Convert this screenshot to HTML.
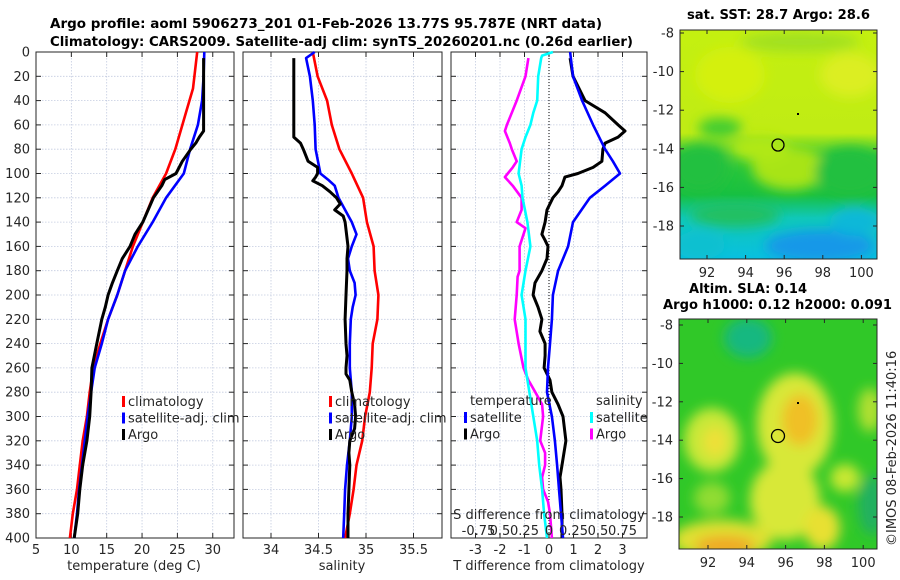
<!DOCTYPE html>
<html><head><meta charset="utf-8">
<style>
html,body{margin:0;padding:0;background:#fff;}
svg{display:block;font-family:"DejaVu Sans","Liberation Sans",sans-serif;}
.tk{font-size:13px;fill:#262626;}
.ttl{font-size:13px;font-weight:bold;fill:#000;}
</style></head>
<body>
<svg id="fig" width="900" height="580" viewBox="0 0 900 580" xmlns="http://www.w3.org/2000/svg">
<defs>
<filter id="blur6" x="-20%" y="-20%" width="140%" height="140%"><feGaussianBlur stdDeviation="6"/></filter>
<clipPath id="clipTop"><rect x="680" y="30" width="197" height="229"/></clipPath>
<clipPath id="clipBot"><rect x="679" y="319" width="198" height="230"/></clipPath>
<linearGradient id="sstGrad" x1="0" y1="0" x2="0" y2="1">
<stop offset="0" stop-color="#c4f010"/><stop offset="0.45" stop-color="#c0ec14"/>
<stop offset="0.55" stop-color="#30c838"/><stop offset="0.72" stop-color="#18c040"/>
<stop offset="0.82" stop-color="#10c8b8"/><stop offset="1" stop-color="#08c0e0"/>
</linearGradient>
</defs>

<text class="ttl" x="50" y="28" textLength="552" lengthAdjust="spacingAndGlyphs">Argo profile: aoml 5906273_201 01-Feb-2026 13.77S 95.787E (NRT data)</text>
<text class="ttl" x="50" y="46" textLength="583" lengthAdjust="spacingAndGlyphs">Climatology: CARS2009. Satellite-adj clim: synTS_20260201.nc (0.26d earlier)</text>

<g id="p1"></g>
<g id="p2"></g>
<g id="p3"></g>

<!-- SST map -->
<g>
<text class="ttl" x="687" y="19" textLength="183" lengthAdjust="spacingAndGlyphs">sat. SST: 28.7 Argo: 28.6</text>
<g clip-path="url(#clipTop)">
<rect x="680" y="30" width="197" height="229" fill="url(#sstGrad)"/>
<g filter="url(#blur6)">
<ellipse cx="790" cy="168" rx="38" ry="22" fill="#a8e418"/>
<ellipse cx="760" cy="148" rx="30" ry="14" fill="#b0e818"/>
<ellipse cx="700" cy="168" rx="28" ry="24" fill="#20c040"/>
<ellipse cx="850" cy="172" rx="35" ry="25" fill="#20c040"/>
<ellipse cx="720" cy="128" rx="22" ry="10" fill="#40cc30"/>
<ellipse cx="735" cy="215" rx="45" ry="12" fill="#20c060"/>
<ellipse cx="820" cy="246" rx="55" ry="16" fill="#1898e8"/>
<ellipse cx="855" cy="222" rx="25" ry="14" fill="#10b8d8"/>
<ellipse cx="700" cy="245" rx="25" ry="14" fill="#10c0d0"/>
<ellipse cx="730" cy="75" rx="35" ry="28" fill="#d4f010"/>
<ellipse cx="850" cy="75" rx="30" ry="22" fill="#dcee20"/>
<ellipse cx="800" cy="42" rx="60" ry="10" fill="#a0e020"/>
</g>
</g>
<rect x="680" y="30" width="197" height="229" fill="none" stroke="#262626" stroke-width="1"/>
<circle cx="778" cy="145" r="6" fill="none" stroke="#000" stroke-width="1.3"/>
<rect x="797" y="113" width="2" height="2" fill="#000"/>
<g id="mapTopAxes"></g>
</g>

<!-- SLA map -->
<g>
<text class="ttl" x="689" y="293" textLength="118" lengthAdjust="spacingAndGlyphs">Altim. SLA: 0.14</text>
<text class="ttl" x="663" y="309" textLength="229" lengthAdjust="spacingAndGlyphs">Argo h1000: 0.12 h2000: 0.091</text>
<g clip-path="url(#clipBot)">
<rect x="679" y="319" width="198" height="230" fill="#30c828"/>
<g filter="url(#blur6)">
<ellipse cx="748" cy="338" rx="24" ry="20" fill="#18b880"/>
<ellipse cx="795" cy="425" rx="38" ry="52" fill="#d8e838"/>
<ellipse cx="800" cy="420" rx="18" ry="26" fill="#f0c028"/>
<ellipse cx="785" cy="500" rx="35" ry="40" fill="#d8e838"/>
<ellipse cx="712" cy="440" rx="28" ry="32" fill="#c8e838"/>
<ellipse cx="715" cy="442" rx="12" ry="15" fill="#eee038"/>
<ellipse cx="722" cy="540" rx="50" ry="20" fill="#e0e030"/>
<ellipse cx="725" cy="546" rx="30" ry="10" fill="#f0a828"/>
<ellipse cx="822" cy="528" rx="18" ry="22" fill="#e8e030"/>
<ellipse cx="845" cy="478" rx="15" ry="14" fill="#c8e830"/>
<ellipse cx="712" cy="498" rx="18" ry="16" fill="#90dc30"/>
<ellipse cx="872" cy="505" rx="14" ry="30" fill="#20b060"/>
<ellipse cx="870" cy="410" rx="12" ry="22" fill="#b0e030"/>
</g>
</g>
<rect x="679" y="319" width="198" height="230" fill="none" stroke="#262626" stroke-width="1"/>
<circle cx="778" cy="436" r="6.5" fill="none" stroke="#000" stroke-width="1.3"/>
<rect x="797" y="402" width="2" height="2" fill="#000"/>
<g id="mapBotAxes"></g>
</g>

<text class="tk" transform="translate(896,546) rotate(-90)">©IMOS 08-Feb-2026 11:40:16</text>
</svg>

<script>
// ---------- data ----------
var climT_depth = [0,30,50,80,100,120,140,160,180,200,220,240,260,280,300,320,340,360,380,400];
var climT = [27.8,27.2,26.2,24.7,23.4,21.5,20.1,18.7,17.6,16.5,15.2,14.1,13.1,12.6,12.2,11.6,11.2,10.8,10.2,9.8];
var satT_depth = [0,20,40,60,80,100,120,140,160,180,200,220,240,260,280,300,320,340,360,380,400];
var satT = [28.8,28.7,28.5,27.9,26.8,25.9,23.4,21.5,19.4,17.6,16.5,15.2,14.3,13.3,12.8,12.3,11.9,11.5,11.1,10.8,10.4];
var argoT_depth = [5,65,70,75,80,90,100,105,110,120,140,150,160,170,180,190,200,210,220,240,260,280,300,320,340,360,380,400];
var argoT = [28.7,28.7,28.1,27.6,26.9,25.7,24.8,23.2,22.8,21.6,20.1,19.0,18.3,17.2,16.5,15.8,15.2,14.8,14.3,13.6,12.9,12.8,12.6,12.2,11.6,11.2,10.9,10.4];

var climS_depth = [0,20,40,60,80,100,105,120,140,160,180,200,220,240,260,280,300,320,340,360,380,400];
var climS = [34.44,34.49,34.59,34.64,34.72,34.85,34.88,34.97,35.01,35.08,35.09,35.13,35.12,35.07,35.06,35.04,34.99,34.96,34.90,34.87,34.83,34.78];
var satS_depth = [0,5,20,40,60,80,100,105,110,120,130,140,150,160,170,180,190,200,210,220,240,260,280,300,320,340,360,380,400];
var satS = [34.46,34.37,34.41,34.44,34.46,34.47,34.52,34.60,34.67,34.71,34.78,34.85,34.90,34.85,34.81,34.83,34.88,34.89,34.86,34.84,34.83,34.83,34.85,34.85,34.83,34.80,34.78,34.77,34.76];
var argoS_depth = [5,70,75,80,90,95,100,103,106,110,115,120,125,130,135,140,160,170,180,200,220,240,250,260,265,270,280,290,300,310,320,330,340,360,380,400];
var argoS = [34.24,34.24,34.31,34.34,34.39,34.49,34.49,34.47,34.44,34.54,34.62,34.69,34.73,34.67,34.76,34.78,34.81,34.80,34.80,34.79,34.78,34.79,34.80,34.79,34.79,34.83,34.85,34.88,34.89,34.88,34.83,34.82,34.83,34.82,34.81,34.81];

var dTargo_depth = [5,20,40,50,60,65,70,75,80,90,95,100,103,110,115,120,130,140,150,155,160,170,180,190,200,210,220,230,240,250,260,270,280,290,300,320,340,350,360,380,400];
var dTargo = [0.86,0.98,1.47,2.29,2.82,3.10,2.82,2.29,2.20,2.16,1.80,1.18,0.65,0.53,0.37,0.16,-0.08,-0.16,-0.29,-0.16,-0.04,-0.08,-0.29,-0.57,-0.65,-0.45,-0.29,-0.37,-0.16,-0.16,-0.20,0.04,0.12,0.37,0.57,0.69,0.53,0.45,0.49,0.53,0.53];
var dTsat_depth = [0,20,40,60,80,90,100,110,120,140,160,180,200,220,240,260,280,300,320,340,360,380,400];
var dTsat = [0.86,0.98,1.35,1.80,2.29,2.61,2.90,2.29,1.67,0.98,0.78,0.37,0.16,0.12,0.04,-0.04,-0.08,0.12,0.24,0.33,0.41,0.49,0.57];
var dSsat_depth = [0,3,5,20,40,50,60,70,80,100,110,120,140,160,180,200,220,240,260,280,300,320,340,360,380,400];
var dSsat = [0.04,-0.07,-0.08,-0.11,-0.12,-0.16,-0.19,-0.24,-0.28,-0.31,-0.28,-0.27,-0.22,-0.19,-0.24,-0.28,-0.24,-0.24,-0.24,-0.20,-0.16,-0.12,-0.10,-0.07,-0.05,-0.02];
var dSargo_depth = [5,20,40,60,65,75,80,90,95,100,103,110,120,130,140,145,160,180,185,200,220,240,260,270,280,290,300,320,330,340,350,360,370,380,400];
var dSargo = [-0.21,-0.24,-0.33,-0.43,-0.45,-0.40,-0.38,-0.33,-0.37,-0.42,-0.45,-0.37,-0.28,-0.28,-0.33,-0.24,-0.30,-0.30,-0.32,-0.33,-0.35,-0.31,-0.26,-0.21,-0.14,-0.07,-0.06,-0.09,-0.04,-0.04,-0.07,-0.06,-0.01,0.01,0.03];

var depthTicks = [0,20,40,60,80,100,120,140,160,180,200,220,240,260,280,300,320,340,360,380,400];
var tempTicks = [5,10,15,20,25,30];
var salTicks = [34,34.5,35,35.5];
var salTickLabels = ["34","34.5","35","35.5"];
var dTTicks = [-3,-2,-1,0,1,2,3];
var dSTicks = [-0.75,-0.5,-0.25,0,0.25,0.5,0.75];
var dSTickLabels = ["-0.75","0.5","0.25","0","0.25","0.5","0.75"];
var latTicks = [-8,-10,-12,-14,-16,-18];
var lonTicks = [92,94,96,98,100];

// ---------- helpers ----------
var NS = "http://www.w3.org/2000/svg";
function mk(tag, attrs, parent){ var e=document.createElementNS(NS,tag); for(var k in attrs) e.setAttribute(k,attrs[k]); if(parent) parent.appendChild(e); return e; }
var Y0=52, Y1=538;
function yD(d){ return Y0 + d*(Y1-Y0)/400; }
function xT(t){ return 36 + (t-5)*7.07; }
function xS(s){ return 271 + (s-34)*95; }
function xDT(v){ return 549 + v*24.5; }
function xDS(v){ return 549 + v*98; }

function frame(g, x0, x1, xticks, xfn, labels, yLabels){
  var grid = mk('g',{},g);
  
  
  depthTicks.forEach(function(d){ if(d>0&&d<400) mk('line',{x1:x0,x2:x1,y1:yD(d),y2:yD(d),stroke:'#c4cce0','stroke-width':0.8,'stroke-dasharray':'1.5,1.5'},grid); });
  xticks.forEach(function(t){ var x=xfn(t); mk('line',{x1:x,x2:x,y1:Y0,y2:Y1,stroke:'#c4cce0','stroke-width':0.8,'stroke-dasharray':'1.5,1.5'},grid); });
  var ax = mk('g',{},g);
  
  
  mk('rect',{x:x0,y:Y0,width:x1-x0,height:Y1-Y0,fill:'none',stroke:'#262626','stroke-width':1},ax);
  depthTicks.forEach(function(d){ var y=yD(d);
    mk('line',{x1:x0,x2:x0+5,y1:y,y2:y,stroke:'#262626'},ax);
    mk('line',{x1:x1-5,x2:x1,y1:y,y2:y,stroke:'#262626'},ax);
    if(yLabels){ var t=mk('text',{x:x0-6,y:y+4.5,'text-anchor':'end','class':'tk'},ax); t.textContent=d;
      
       }
  });
  xticks.forEach(function(v,i){ var x=xfn(v);
    mk('line',{x1:x,x2:x,y1:Y1,y2:Y1-5,stroke:'#262626'},ax);
    mk('line',{x1:x,x2:x,y1:Y0,y2:Y0+5,stroke:'#262626'},ax);
    var t=mk('text',{x:x,y:Y1+16,'text-anchor':'middle','class':'tk'},ax); t.textContent=labels?labels[i]:v;
    
    
  });
}
function line(g, xs, ds, xfn, color, name, w){
  var p='';
  for(var i=0;i<xs.length;i++){ p += (i?'L':'M') + xfn(xs[i]).toFixed(1) + ',' + yD(ds[i]).toFixed(1); }
  var e=mk('path',{d:p,fill:'none',stroke:color,'stroke-width':w||2.6,'stroke-linejoin':'round'},g);
  
  
  return e;
}
function legend(g, x, y, items){
  items.forEach(function(it,i){
    var yy=y+i*16.5;
    mk('rect',{x:x,y:yy-10,width:3,height:11,fill:it[1]},g);
    var t=mk('text',{x:x+6,y:yy,'class':'tk'},g); t.textContent=it[0];
    
    
  });
}
function label(g, txt, x, y, name){
  var t=mk('text',{x:x,y:y,'text-anchor':'middle','class':'tk'},g); t.textContent=txt;
  
  
}

// ---------- panel 1 ----------
var g1=document.getElementById('p1');
frame(g1,36,234,tempTicks,xT,null,true);
line(g1,climT,climT_depth,xT,'#ff0000','climatology-temp-line');
line(g1,satT,satT_depth,xT,'#0000ff','satellite-temp-line');
line(g1,argoT,argoT_depth,xT,'#000000','argo-temp-line',3);
legend(g1,122,406,[['climatology','#ff0000'],['satellite-adj. clim','#0000ff'],['Argo','#000']]);
label(g1,'temperature (deg C)',134,570,'temperature-x-axis-title');

// ---------- panel 2 ----------
var g2=document.getElementById('p2');
frame(g2,243,442,salTicks,xS,salTickLabels,false);
line(g2,climS,climS_depth,xS,'#ff0000','climatology-salinity-line');
line(g2,satS,satS_depth,xS,'#0000ff','satellite-salinity-line');
line(g2,argoS,argoS_depth,xS,'#000000','argo-salinity-line',3);
legend(g2,329,406,[['climatology','#ff0000'],['satellite-adj. clim','#0000ff'],['Argo','#000']]);
label(g2,'salinity',342,570,'salinity-x-axis-title');

// ---------- panel 3 ----------
var g3=document.getElementById('p3');
frame(g3,451,647,dTTicks,xDT,null,false);
var z=mk('line',{x1:549,x2:549,y1:Y0,y2:Y1,stroke:'#000','stroke-width':1,'stroke-dasharray':'1,2'},g3);


line(g3,dSargo,dSargo_depth,xDS,'#ff00ff','argo-salinity-diff-line');
line(g3,dSsat,dSsat_depth,xDS,'#00ffff','satellite-salinity-diff-line');
line(g3,dTargo,dTargo_depth,xDT,'#000000','argo-temp-diff-line',3);
line(g3,dTsat,dTsat_depth,xDT,'#0000ff','satellite-temp-diff-line');
var lt=mk('text',{x:470,y:405,'class':'tk'},g3); lt.textContent='temperature';


var ls=mk('text',{x:596,y:405,'class':'tk'},g3); ls.textContent='salinity';


legend(g3,464,422,[['satellite','#0000ff'],['Argo','#000']]);
legend(g3,590,422,[['satellite','#00ffff'],['Argo','#ff00ff']]);
label(g3,'S difference from climatology',549,519,'s-diff-axis-title');
dSTicks.forEach(function(v,i){ label(g3,dSTickLabels[i],xDS(v)+(i==0?3:0),535,'s-diff-tick-label'); });
label(g3,'T difference from climatology',549,570,'t-diff-axis-title');

// ---------- map axes ----------
function mapAxes(id, x0, x1, yTop, yBot, lat8y, latStep, lon92x, lonStep){
  var g=document.getElementById(id);
  latTicks.forEach(function(l){ var y=lat8y + (-8-l)*latStep;
    mk('line',{x1:x0,x2:x0+4,y1:y,y2:y,stroke:'#262626'},g);
    mk('line',{x1:x1-4,x2:x1,y1:y,y2:y,stroke:'#262626'},g);
    var t=mk('text',{x:x0-6,y:y+4.5,'text-anchor':'end','class':'tk'},g); t.textContent=l;
    
    
  });
  lonTicks.forEach(function(l){ var x=lon92x + (l-92)*lonStep;
    mk('line',{x1:x,x2:x,y1:yBot,y2:yBot-4,stroke:'#262626'},g);
    mk('line',{x1:x,x2:x,y1:yTop,y2:yTop+4,stroke:'#262626'},g);
    var t=mk('text',{x:x,y:yBot+18,'text-anchor':'middle','class':'tk'},g); t.textContent=l;
    
    
  });
}
mapAxes('mapTopAxes',680,877,30,259,33,19.3,707,19.3);
mapAxes('mapBotAxes',679,877,319,549,325,19.2,708,19.4);
</script>
</body></html>
